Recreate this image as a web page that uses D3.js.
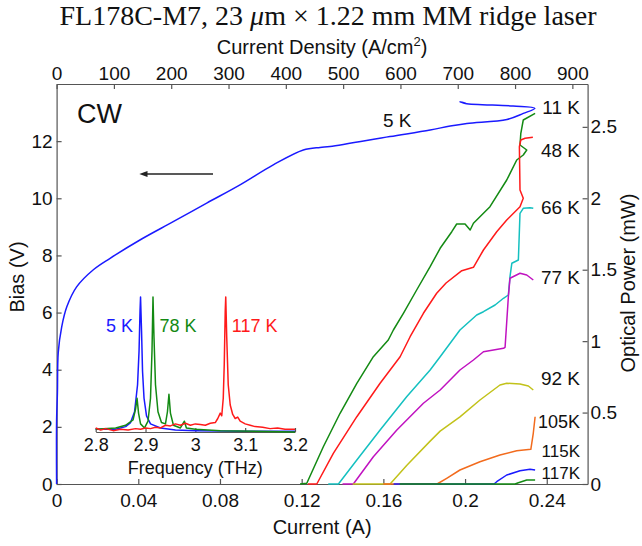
<!DOCTYPE html>
<html>
<head>
<meta charset="utf-8">
<script src="https://cdn.jsdelivr.net/npm/d3@7"></script>
<style>
  body { margin: 0; background: #fff; }
  svg { display: block; font-family: "Liberation Sans", Arial, sans-serif; }
  .axis path, .axis line { stroke: #555; stroke-width: 1.2; }
  .axis text { fill: #111; font-size: 19px; font-family: "Liberation Sans", Arial, sans-serif; }
  .inset text { font-size: 18px; }
  .curve { fill: none; stroke-width: 1.5; stroke-linejoin: round; }
  .lbl { font-size: 19px; fill: #111; }
  .title { font-size: 20px; fill: #111; }
</style>
</head>
<body>
<div id="chart"></div>
<script>
'use strict';

// ridge: 23 um x 1.22 mm
var ridgeArea = 23e-4 * 0.122;

var currentTicks = [0, 0.04, 0.08, 0.12, 0.16, 0.2, 0.24];
var biasTicks = [0, 2, 4, 6, 8, 10, 12];
var densityTicks = [0, 100, 200, 300, 400, 500, 600, 700, 800, 900];
var powerTicks = [0, 0.5, 1, 1.5, 2, 2.5];
var freqTicks = [2.8, 2.9, 3, 3.1, 3.2];

// 5 K bias vs current
var ivCurrent = [0, 0, 0.0004, 0.0008, 0.0025, 0.0050, 0.0098, 0.0180, 0.0262, 0.0408, 0.0571, 0.0735, 0.0898, 0.1061, 0.1208, 0.1290, 0.1339, 0.1632, 0.1829, 0.1927, 0.2009, 0.2205, 0.2285, 0.2342, 0.2235, 0.2001, 0.1975, 0.2005];
var ivBias = [0, 2.2, 3.2, 4.6, 5.5, 6.2, 6.9, 7.5, 7.9, 8.54, 9.18, 9.83, 10.47, 11.17, 11.69, 11.78, 11.81, 12.16, 12.39, 12.53, 12.62, 12.76, 12.97, 13.15, 13.23, 13.32, 13.38, 13.32];

// optical power vs current, one pair of arrays per temperature
var temps = ['11 K', '48 K', '66 K', '77 K', '92 K', '105K', '115K', '117K'];
var tempColors = ['#138a13', '#ff1a1a', '#14c0c0', '#c012c0', '#c2c21a', '#f26b1d', '#1a1aff', '#138a13'];
var labelPower = [2.64, 2.34, 1.94, 1.45, 0.74, 0.44, 0.235, 0.075];
var labelSize = [19, 19, 19, 19, 19, 18, 17, 17];

var li11I = [0.1192, 0.1225, 0.1306, 0.1388, 0.1470, 0.1551, 0.1624, 0.1649, 0.1698, 0.1763, 0.1829, 0.1878, 0.1935, 0.1959, 0.2000, 0.2025, 0.2041, 0.2122, 0.2204, 0.2253, 0.2285, 0.2302, 0.2269, 0.2273, 0.2285, 0.2343];
var li11P = [0, 0.005, 0.261, 0.495, 0.705, 0.891, 1.008, 1.078, 1.195, 1.358, 1.521, 1.650, 1.766, 1.820, 1.820, 1.778, 1.825, 1.941, 2.128, 2.268, 2.303, 2.338, 2.373, 2.455, 2.548, 2.595];
var li48I = [0.1230, 0.1274, 0.1355, 0.1470, 0.1584, 0.1682, 0.1731, 0.1796, 0.1861, 0.1907, 0.1984, 0.2041, 0.2090, 0.2155, 0.2204, 0.2269, 0.2285, 0.2269, 0.2266, 0.2273, 0.2294, 0.2332];
var li48P = [0, 0, 0.215, 0.471, 0.705, 0.891, 1.031, 1.195, 1.335, 1.407, 1.493, 1.517, 1.638, 1.766, 1.848, 1.941, 2.000, 2.058, 2.361, 2.408, 2.420, 2.427];
var li66I = [0.1330, 0.1380, 0.1470, 0.1584, 0.1714, 0.1829, 0.1878, 0.1975, 0.2057, 0.2090, 0.2147, 0.2188, 0.2212, 0.2220, 0.2229, 0.2261, 0.2269, 0.2285, 0.2318, 0.2334];
var li66P = [0, 0, 0.168, 0.378, 0.611, 0.798, 0.891, 1.078, 1.183, 1.206, 1.253, 1.300, 1.323, 1.451, 1.545, 1.568, 1.895, 1.930, 1.934, 1.930];
var li77I = [0.1400, 0.1453, 0.1551, 0.1666, 0.1796, 0.1878, 0.1975, 0.2041, 0.2090, 0.2188, 0.2196, 0.2212, 0.2220, 0.2269, 0.2302, 0.2334];
var li77P = [0, 0, 0.191, 0.378, 0.565, 0.658, 0.798, 0.868, 0.926, 0.950, 0.957, 1.311, 1.440, 1.475, 1.463, 1.428];
var li92I = [0.1450, 0.1633, 0.1714, 0.1829, 0.1878, 0.1975, 0.2073, 0.2171, 0.2204, 0.2269, 0.2310, 0.2334];
var li92P = [0, 0, 0.13, 0.30, 0.37, 0.47, 0.588, 0.693, 0.705, 0.700, 0.686, 0.658];
var li105I = [0.1600, 0.1863, 0.1910, 0.1975, 0.2073, 0.2171, 0.2253, 0.2322, 0.2334, 0.2343];
var li105P = [0, 0, 0.040, 0.098, 0.156, 0.203, 0.233, 0.243, 0.355, 0.471];
var li115I = [0.1650, 0.2142, 0.2155, 0.2204, 0.2269, 0.2318, 0.2343];
var li115P = [0, 0, 0.016, 0.063, 0.093, 0.103, 0.098];
var li117I = [0.1680, 0.2245, 0.2261, 0.2302, 0.2343];
var li117P = [0, 0, 0.009, 0.028, 0.028];

// inset: normalised emission spectra
var spec5F = [2.80, 2.84, 2.86, 2.87, 2.878, 2.884, 2.887, 2.889, 2.890, 2.892, 2.894, 2.897, 2.902, 2.91, 2.93, 2.96, 3.0, 3.1, 3.2];
var spec5A = [0.02, 0.02, 0.04, 0.07, 0.15, 0.35, 0.6, 0.9, 1.0, 0.75, 0.45, 0.25, 0.12, 0.06, 0.03, 0.015, 0.01, 0.005, 0.005];
var spec78F = [2.80, 2.84, 2.86, 2.875, 2.880, 2.883, 2.886, 2.89, 2.898, 2.905, 2.91, 2.913, 2.915, 2.917, 2.92, 2.925, 2.932, 2.94, 2.944, 2.947, 2.950, 2.956, 2.97, 2.978, 2.982, 3.0, 3.05, 3.2];
var spec78A = [0.02, 0.03, 0.05, 0.09, 0.17, 0.25, 0.14, 0.06, 0.03, 0.08, 0.25, 0.6, 1.0, 0.7, 0.35, 0.15, 0.07, 0.06, 0.15, 0.28, 0.14, 0.05, 0.03, 0.08, 0.03, 0.02, 0.01, 0.0];
var spec117F = [2.80, 2.81, 2.82, 2.835, 2.85, 2.865, 2.88, 2.89, 2.90, 2.91, 2.92, 2.93, 2.94, 2.95, 2.96, 2.97, 2.98, 2.99, 3.00, 3.01, 3.02, 3.03, 3.04, 3.045, 3.050, 3.053, 3.056, 3.058, 3.060, 3.061, 3.063, 3.066, 3.07, 3.075, 3.08, 3.085, 3.09, 3.10, 3.11, 3.12, 3.135, 3.15, 3.165, 3.18, 3.2];
var spec117A = [0.03, 0.015, 0.025, 0.01, 0.02, 0.015, 0.025, 0.02, 0.03, 0.025, 0.035, 0.03, 0.05, 0.045, 0.06, 0.05, 0.065, 0.05, 0.06, 0.055, 0.05, 0.065, 0.07, 0.10, 0.14, 0.12, 0.25, 0.5, 0.9, 1.0, 0.7, 0.35, 0.2, 0.13, 0.1, 0.11, 0.08, 0.06, 0.05, 0.04, 0.035, 0.025, 0.03, 0.02, 0.02];
var specNames = ['5 K', '78 K', '117 K'];
var specColors = ['#1a1aff', '#138a13', '#ff1a1a'];

var liSeries = [[li11I, li11P], [li48I, li48P], [li66I, li66P], [li77I, li77P], [li92I, li92P], [li105I, li105P], [li115I, li115P], [li117I, li117P]];
var specSeries = [[spec5F, spec5A], [spec78F, spec78A], [spec117F, spec117A]];

function zip(a, b) {
  return a.map(function(v, i) { return [v, b[i]]; });
}

var width = 642, height = 546;
var plotLeft = 56.6, plotRight = 587.6, plotTop = 84, plotBottom = 484;

var x = d3.scaleLinear().domain([0, 0.26]).range([plotLeft, plotRight]);
var xJ = d3.scaleLinear().domain([0, 0.26 / ridgeArea]).range([plotLeft, plotRight]);
var y = d3.scaleLinear().domain([0, 14]).range([plotBottom, plotTop]);
var yP = d3.scaleLinear().domain([0, 2.8]).range([plotBottom, plotTop]);

var fx = d3.scaleLinear().domain([2.8, 3.2]).range([95.7, 295]);
var fy = d3.scaleLinear().domain([0, 1]).range([432, 297]);

var fmt = d3.format('~g');

var svg = d3.select('#chart').append('svg')
    .attr('width', width)
    .attr('height', height);

svg.append('rect')
    .attr('width', width)
    .attr('height', height)
    .attr('fill', '#fff');

// title
var title = svg.append('text')
    .attr('x', 328)
    .attr('y', 25)
    .attr('text-anchor', 'middle')
    .style('font-family', '"Liberation Serif", "Times New Roman", serif')
    .style('font-size', '28px')
    .style('fill', '#111');
title.append('tspan').text('FL178C-M7, 23 ');
title.append('tspan').style('font-style', 'italic').text('\u03bc');
title.append('tspan').text('m \u00d7 1.22 mm MM ridge laser');

// axes, ticks pointing inward
svg.append('g')
    .attr('class', 'axis')
    .attr('transform', 'translate(0,' + plotBottom + ')')
    .call(d3.axisBottom(x).tickValues(currentTicks).tickFormat(fmt)
      .tickSizeInner(-5).tickSizeOuter(0).tickPadding(10));

svg.append('g')
    .attr('class', 'axis')
    .attr('transform', 'translate(0,' + plotTop + ')')
    .call(d3.axisTop(xJ).tickValues(densityTicks).tickFormat(fmt)
      .tickSizeInner(-5).tickSizeOuter(0).tickPadding(4));

svg.append('g')
    .attr('class', 'axis')
    .attr('transform', 'translate(' + plotLeft + ',0)')
    .call(d3.axisLeft(y).tickValues(biasTicks).tickFormat(fmt)
      .tickSizeInner(-5).tickSizeOuter(0).tickPadding(4));

svg.append('g')
    .attr('class', 'axis')
    .attr('transform', 'translate(' + plotRight + ',0)')
    .call(d3.axisRight(yP).tickValues(powerTicks).tickFormat(fmt)
      .tickSizeInner(-5).tickSizeOuter(0).tickPadding(3));

// axis titles
svg.append('text')
    .attr('class', 'title')
    .attr('x', (plotLeft + plotRight) / 2)
    .attr('y', 534)
    .attr('text-anchor', 'middle')
    .text('Current (A)');

var dens = svg.append('text')
    .attr('class', 'title')
    .attr('x', (plotLeft + plotRight) / 2)
    .attr('y', 54)
    .attr('text-anchor', 'middle');
dens.append('tspan').text('Current Density (A/cm');
dens.append('tspan').attr('dy', -8).style('font-size', '13px').text('2');
dens.append('tspan').attr('dy', 8).text(')');

svg.append('text')
    .attr('class', 'title')
    .attr('transform', 'translate(24,' + 277 + ') rotate(-90)')
    .attr('text-anchor', 'middle')
    .text('Bias (V)');

svg.append('text')
    .attr('class', 'title')
    .attr('transform', 'translate(635,' + 283 + ') rotate(-90)')
    .attr('text-anchor', 'middle')
    .text('Optical Power (mW)');

var line = d3.line();

// L-I curves on the right axis
var liLine = d3.line()
    .x(function(d) { return x(d[0]); })
    .y(function(d) { return yP(d[1]); });

svg.append('g').selectAll('path')
    .data(liSeries)
    .enter().append('path')
    .attr('class', 'curve')
    .attr('stroke', function(d, i) { return tempColors[i]; })
    .attr('d', function(d) { return liLine(zip(d[0], d[1])); });

svg.append('g').selectAll('text')
    .data(temps)
    .enter().append('text')
    .attr('class', 'lbl')
    .attr('text-anchor', 'end')
    .attr('x', 580)
    .attr('y', function(d, i) { return yP(labelPower[i]) + 0.36 * labelSize[i]; })
    .style('font-size', function(d, i) { return labelSize[i] + 'px'; })
    .text(function(d) { return d; });

// 5 K I-V curve on the left axis
var ivLine = d3.line()
    .curve(d3.curveCatmullRom.alpha(0.5))
    .x(function(d) { return x(d[0]); })
    .y(function(d) { return y(d[1]); });

svg.append('path')
    .attr('class', 'curve')
    .attr('stroke', '#1a1aff')
    .attr('d', ivLine(zip(ivCurrent, ivBias)));

svg.append('text')
    .attr('class', 'lbl')
    .attr('x', x(0.1668))
    .attr('y', y(12.5))
    .attr('text-anchor', 'middle')
    .text('5 K');

svg.append('text')
    .attr('x', 77)
    .attr('y', 123)
    .style('font-size', '27px')
    .style('fill', '#111')
    .text('CW');

// arrow: I-V belongs to the left axis
var ay = y(10.85);
svg.append('line')
    .attr('x1', x(0.0766)).attr('x2', x(0.0425))
    .attr('y1', ay).attr('y2', ay)
    .attr('stroke', '#222')
    .attr('stroke-width', 1.3);
svg.append('path')
    .attr('d', line([[x(0.0405), ay], [x(0.0445), ay - 3], [x(0.0445), ay + 3]]) + 'Z')
    .attr('fill', '#222');

// inset spectra
var inset = svg.append('g').attr('class', 'inset');

inset.append('g')
    .attr('class', 'axis')
    .attr('transform', 'translate(0,' + fy(0) + ')')
    .call(d3.axisBottom(fx).tickValues(freqTicks).tickFormat(fmt)
      .tickSizeInner(-4).tickSizeOuter(0).tickPadding(6));

var specLine = d3.line()
    .x(function(d) { return fx(d[0]); })
    .y(function(d) { return fy(d[1]); });

inset.append('g').selectAll('path')
    .data(specSeries)
    .enter().append('path')
    .attr('class', 'curve')
    .attr('stroke', function(d, i) { return specColors[i]; })
    .attr('d', function(d) { return specLine(zip(d[0], d[1])); });

var specLabelX = [2.848, 2.965, 3.119];
inset.append('g').selectAll('text')
    .data(specNames)
    .enter().append('text')
    .attr('class', 'lbl')
    .attr('text-anchor', 'middle')
    .attr('x', function(d, i) { return fx(specLabelX[i]); })
    .attr('y', fy(0.74))
    .style('font-size', '18px')
    .style('fill', function(d, i) { return specColors[i]; })
    .text(function(d) { return d; });

inset.append('text')
    .attr('class', 'lbl')
    .attr('x', fx(3.0))
    .attr('y', 474)
    .attr('text-anchor', 'middle')
    .style('font-size', '18px')
    .text('Frequency (THz)');
</script>
</body>
</html>
